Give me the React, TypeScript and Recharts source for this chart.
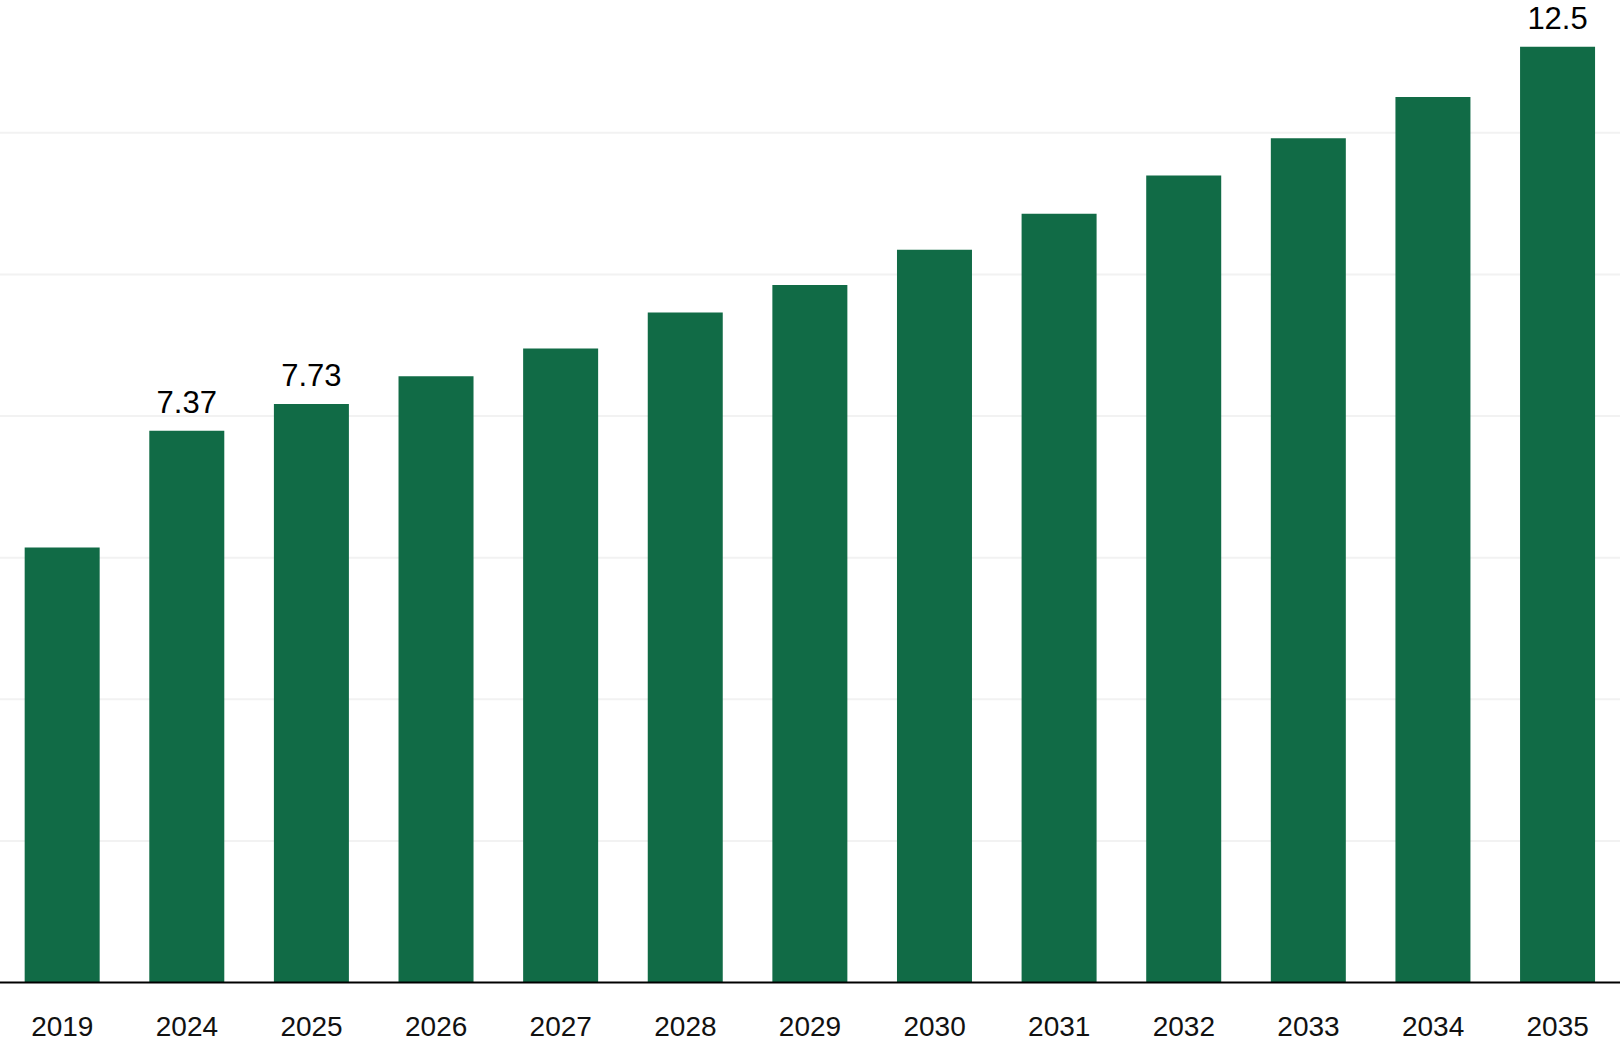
import React from "react";
import { Bar, BarChart, CartesianGrid, LabelList, XAxis, YAxis } from "recharts";

const years = ["2019", "2024", "2025", "2026", "2027", "2028", "2029", "2030", "2031", "2032", "2033", "2034", "2035"];
const values = [5.81, 7.37, 7.73, 8.1, 8.47, 8.95, 9.32, 9.79, 10.27, 10.78, 11.28, 11.83, 12.5];
const valueLabels = ["", "7.37", "7.73", "", "", "", "", "", "", "", "", "", "12.5"];
const gridTicks = [1.892, 3.784, 5.676, 7.568, 9.46, 11.352];

const data = years.map((year, i) => ({ year, value: values[i], label: valueLabels[i] }));

const font = '"Liberation Sans", Arial, sans-serif';
const green = "#116b46";

function YearTick({ x, y, payload }: any) {
  return (
    <text x={x} y={y} dy={53.5} textAnchor="middle" fontSize={28} fontFamily={font} fill="#111">
      {payload.value}
    </text>
  );
}

function TopLabel({ x, y, width, value }: any) {
  if (!value) return null;
  return (
    <text x={x + width / 2} y={y - 18} textAnchor="middle" fontSize={31} fontFamily={font} fill="#000">
      {value}
    </text>
  );
}

export default function App() {
  return (
    <div style={{ position: "absolute", left: 0, top: 0, width: 1620, height: 1056, background: "#fff" }}>
      <BarChart
        width={1620}
        height={1056}
        data={data}
        margin={{ top: 0, right: 0, bottom: 0, left: 0 }}
        barCategoryGap="19.8%"
      >
        <CartesianGrid vertical={false} stroke="#f2f2f2" strokeWidth={2} horizontalValues={gridTicks} />
        <YAxis hide domain={[0, 13.126]} ticks={gridTicks} />
        <XAxis
          dataKey="year"
          height={73.5}
          axisLine={{ stroke: "#000", strokeWidth: 2 }}
          tickLine={false}
          tickSize={0}
          tickMargin={0}
          interval={0}
          tick={<YearTick />}
        />
        <Bar dataKey="value" fill={green} isAnimationActive={false}>
          <LabelList dataKey="label" content={<TopLabel />} />
        </Bar>
      </BarChart>
    </div>
  );
}
